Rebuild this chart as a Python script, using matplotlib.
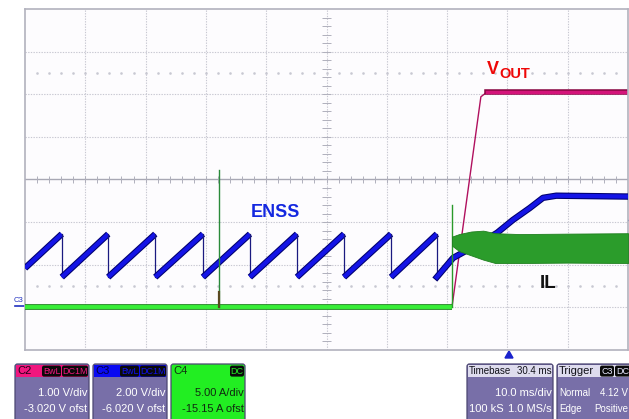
import matplotlib
matplotlib.use('Agg')
import matplotlib.pyplot as plt
from matplotlib.patches import FancyBboxPatch, Rectangle, Polygon
import numpy as np

# ---- trace data, in screen divisions (x: 0..10, y: 0..8) ----
# ENSS sawtooth (C3)
enss_peak_t = [0.61, 1.38, 2.16, 2.95, 3.73, 4.51, 5.29, 6.07, 6.83]
enss_start_v = 1.92
enss_peak_v = 2.72
enss_trough_v = 1.71
# ENSS soft-start rise after last reset
enss_rise_t = [6.83, 7.10, 7.55, 7.83, 8.09, 8.37, 8.59, 8.81, 10.0]
enss_rise_v = [1.71, 2.16, 2.51, 2.75, 3.05, 3.33, 3.57, 3.62, 3.60]

# VOUT (C2)
vout_t = [0.0, 7.08, 7.56, 7.66, 10.0]
vout_v = [1.0, 1.0, 5.94, 6.05, 6.05]

# IL (C4)
il_base_t = [0.0, 7.08]
il_base_v = [1.0, 1.0]
il_spike_t = 3.21
il_spike_v = 4.22
il_step_v = 3.40
il_band_t = [7.08, 7.20, 7.40, 7.60, 7.80, 8.20, 9.00, 10.0]
il_band_hi = [2.66, 2.72, 2.78, 2.80, 2.74, 2.72, 2.73, 2.74]
il_band_lo = [2.45, 2.32, 2.22, 2.12, 2.04, 2.04, 2.05, 2.04]

# panel texts
ch_names = ['C2', 'C3', 'C4']
ch_scale = ['1.00 V/div', '2.00 V/div', '5.00 A/div']
ch_ofst = ['-3.020 V ofst', '-6.020 V ofst', '-15.15 A ofst']

W, H = 629, 419
SANS = ['Liberation Sans', 'DejaVu Sans']
FS = 8

fig = plt.figure(figsize=(W / 100, H / 100), dpi=100)
fig.patch.set_facecolor('white')

# overlay in pixel coords for the scope decorations
ov = fig.add_axes([0, 0, 1, 1])
ov.set_xlim(0, W)
ov.set_ylim(H, 0)
ov.axis('off')

ax = fig.add_axes([25 / W, (H - 350) / H, 603 / W, 341 / H])
ax.set_xlim(0, 10)
ax.set_ylim(0, 8)
ax.set_facecolor('#fdfcfe')
ax.set_xticks([])
ax.set_yticks([])
for s in ax.spines.values():
    s.set_color('#b2b2bd')
    s.set_linewidth(1.2)

# graticule
for gx in range(1, 10):
    ax.axvline(gx, color='#c8c8d2', lw=0.8, ls=(0, (1.2, 1.2)), zorder=0)
for gy in range(1, 8):
    if gy == 4:
        ax.axhline(gy, color='#a8a8b4', lw=1.0, zorder=0)
    else:
        ax.axhline(gy, color='#c8c8d2', lw=0.8, ls=(0, (1.2, 1.2)), zorder=0)
minor = np.arange(0.2, 10, 0.2)
ax.vlines(minor, 3.92, 4.08, color='#b0b0bc', lw=0.7, zorder=0)
ax.plot(minor, np.full(len(minor), 6.5), ls='none', marker='s', ms=0.8,
        color='#c8c8d2', zorder=0)
ax.plot(minor, np.full(len(minor), 1.5), ls='none', marker='s', ms=0.8,
        color='#c8c8d2', zorder=0)
minor_y = np.arange(0.2, 8, 0.2)
ax.hlines(minor_y, 4.93, 5.07, color='#b0b0bc', lw=0.7, zorder=0)

# VOUT
ax.plot(vout_t, vout_v, color='#b0105e', lw=1.0, zorder=2)
ax.plot(vout_t[3:], vout_v[3:], color='#8a0844', lw=4.0, zorder=2)
ax.plot(vout_t[3:], vout_v[3:], color='#d4147a', lw=2.4, zorder=2)

# ENSS sawtooth: thin resets, thick ramps
prev_t, prev_v = 0.0, enss_start_v
for pt in enss_peak_t:
    ax.plot([prev_t, pt], [prev_v, enss_peak_v], color='#00006e',
            lw=4.6, solid_capstyle='butt', zorder=3)
    ax.plot([prev_t, pt], [prev_v, enss_peak_v], color='#1414e6',
            lw=3.1, solid_capstyle='butt', zorder=3)
    ax.plot([pt, pt], [enss_peak_v, enss_trough_v], color='#1a1a80',
            lw=0.9, zorder=3)
    prev_t, prev_v = pt, enss_trough_v
ax.plot(enss_rise_t, enss_rise_v, color='#00006e', lw=4.6, zorder=3)
ax.plot(enss_rise_t, enss_rise_v, color='#1414e6', lw=3.1, zorder=3)

# IL
ax.plot(il_base_t, il_base_v, color='#2a8a2a', lw=4.2, zorder=4,
        solid_capstyle='butt')
ax.plot(il_base_t, il_base_v, color='#38ee38', lw=2.8, zorder=4,
        solid_capstyle='butt')
ax.plot([il_spike_t, il_spike_t], [il_base_v[0], il_spike_v],
        color='#2a8a3a', lw=1.0, zorder=4)
ax.plot([il_spike_t, il_spike_t], [il_base_v[0], 1.35],
        color='#5a4a20', lw=1.6, zorder=4)
ax.plot([il_band_t[0], il_band_t[0]], [il_base_v[-1], il_step_v],
        color='#2a9a2a', lw=1.0, zorder=4)
ax.fill_between(il_band_t, il_band_lo, il_band_hi, color='#2b9c2b',
                lw=0.6, edgecolor='#1f7f1f', zorder=4)

# trace labels
ax.text(4.15, 3.22, 'ENSS', color='#1428e0', fontsize=13, fontweight='bold',
        family=SANS, ha='center', va='center', zorder=6)
ax.text(7.66, 6.48, 'V', color='#ee0808', fontsize=13, fontweight='bold',
        family=SANS, ha='left', va='baseline', zorder=6)
ax.text(7.87, 6.38, 'OUT', color='#ee0808', fontsize=10.5, fontweight='bold',
        family=SANS, ha='left', va='baseline', zorder=6)
ax.text(8.54, 1.45, 'IL', color='#111111', fontsize=13.5, fontweight='bold',
        family=SANS, ha='left', va='baseline', zorder=6)

# C3 ground marker, trigger marker, off-screen marker
ov.text(19, 300, 'C3', color='#2030c0', fontsize=5.5, family=SANS,
        ha='center', va='center')
ov.plot([15, 24], [306, 306], color='#2030c0', lw=1.2)
ov.add_patch(Polygon([(505, 358), (513, 358), (509, 351)], closed=True,
                     color='#1a22cc'))
ov.plot([625, 629], [220, 220], color='#2030c0', lw=1.0)


# ---- bottom panels ----
def panel(x0, x1, head_col, body_col, edge='#4c4672'):
    ov.add_patch(FancyBboxPatch((x0, 364), x1 - x0, 70,
                                boxstyle='round,pad=0,rounding_size=2.5',
                                fc=body_col, ec=edge, lw=0.9))
    ov.add_patch(Rectangle((x0 + 0.8, 364.8), x1 - x0 - 1.6, 12.5,
                           fc=head_col, ec='none'))


def tag(x0, w, txt, col):
    ov.add_patch(FancyBboxPatch((x0, 365.6), w, 11,
                                boxstyle='round,pad=0,rounding_size=2',
                                fc='#0a0a0a', ec='none'))
    ov.text(x0 + w / 2, 371.3, txt, color=col, fontsize=6.5, family=SANS,
            ha='center', va='center')


PURPLE = '#786fa8'
ch_x = [(15, 89), (93, 167), (171, 245)]
ch_head = ['#f0167e', '#0a0af2', '#22ee22']
ch_tag = ['#f0167e', '#1010f0', '#22ee22']
ch_txt = ['#ffffff', '#ffffff', '#102a10']
ch_name_col = ['#20001a', '#000040', '#103010']
for i, (x0, x1) in enumerate(ch_x):
    body = ch_head[i] if i == 2 else PURPLE
    panel(x0, x1, ch_head[i], body)
    ov.text(x0 + 2.5, 371, ch_names[i], color=ch_name_col[i], fontsize=FS,
            family=SANS, ha='left', va='center')
    if i < 2:
        tag(x0 + 27, 19, 'BwL', ch_tag[i])
        tag(x0 + 47, 26, 'DC1M', ch_tag[i])
    else:
        tag(x0 + 59, 14, 'DC', ch_tag[i])
    ov.text(x1 - 1.5, 392.5, ch_scale[i], color=ch_txt[i], fontsize=FS,
            family=SANS, ha='right', va='center')
    ov.text(x1 - 1.5, 409, ch_ofst[i], color=ch_txt[i], fontsize=FS,
            family=SANS, ha='right', va='center')

# timebase
panel(467, 553, '#dedcee', PURPLE)
ov.text(469, 371, 'Timebase', color='#101018', fontsize=7, family=SANS,
        ha='left', va='center')
ov.text(552, 371, '30.4 ms', color='#101018', fontsize=7, family=SANS,
        ha='right', va='center')
ov.text(552, 392.5, '10.0 ms/div', color='white', fontsize=FS,
        family=SANS, ha='right', va='center')
ov.text(469, 409, '100 kS', color='white', fontsize=FS, family=SANS,
        ha='left', va='center')
ov.text(552, 409, '1.0 MS/s', color='white', fontsize=FS, family=SANS,
        ha='right', va='center')

# trigger
panel(557, 660, '#dedcee', PURPLE)
ov.text(559, 371, 'Trigger', color='#101018', fontsize=FS, family=SANS,
        ha='left', va='center')
tag(600, 14, 'C3', '#e8e8ff')
tag(615, 16, 'DC', '#e8e8ff')
ov.text(559, 392.5, 'Normal', color='white', fontsize=7, family=SANS,
        ha='left', va='center')
ov.text(628, 392.5, '4.12 V', color='white', fontsize=7, family=SANS,
        ha='right', va='center')
ov.text(559, 409, 'Edge', color='white', fontsize=7, family=SANS,
        ha='left', va='center')
ov.text(628, 409, 'Positive', color='white', fontsize=7, family=SANS,
        ha='right', va='center')

fig.savefig('out.png', dpi=100, facecolor='white')
